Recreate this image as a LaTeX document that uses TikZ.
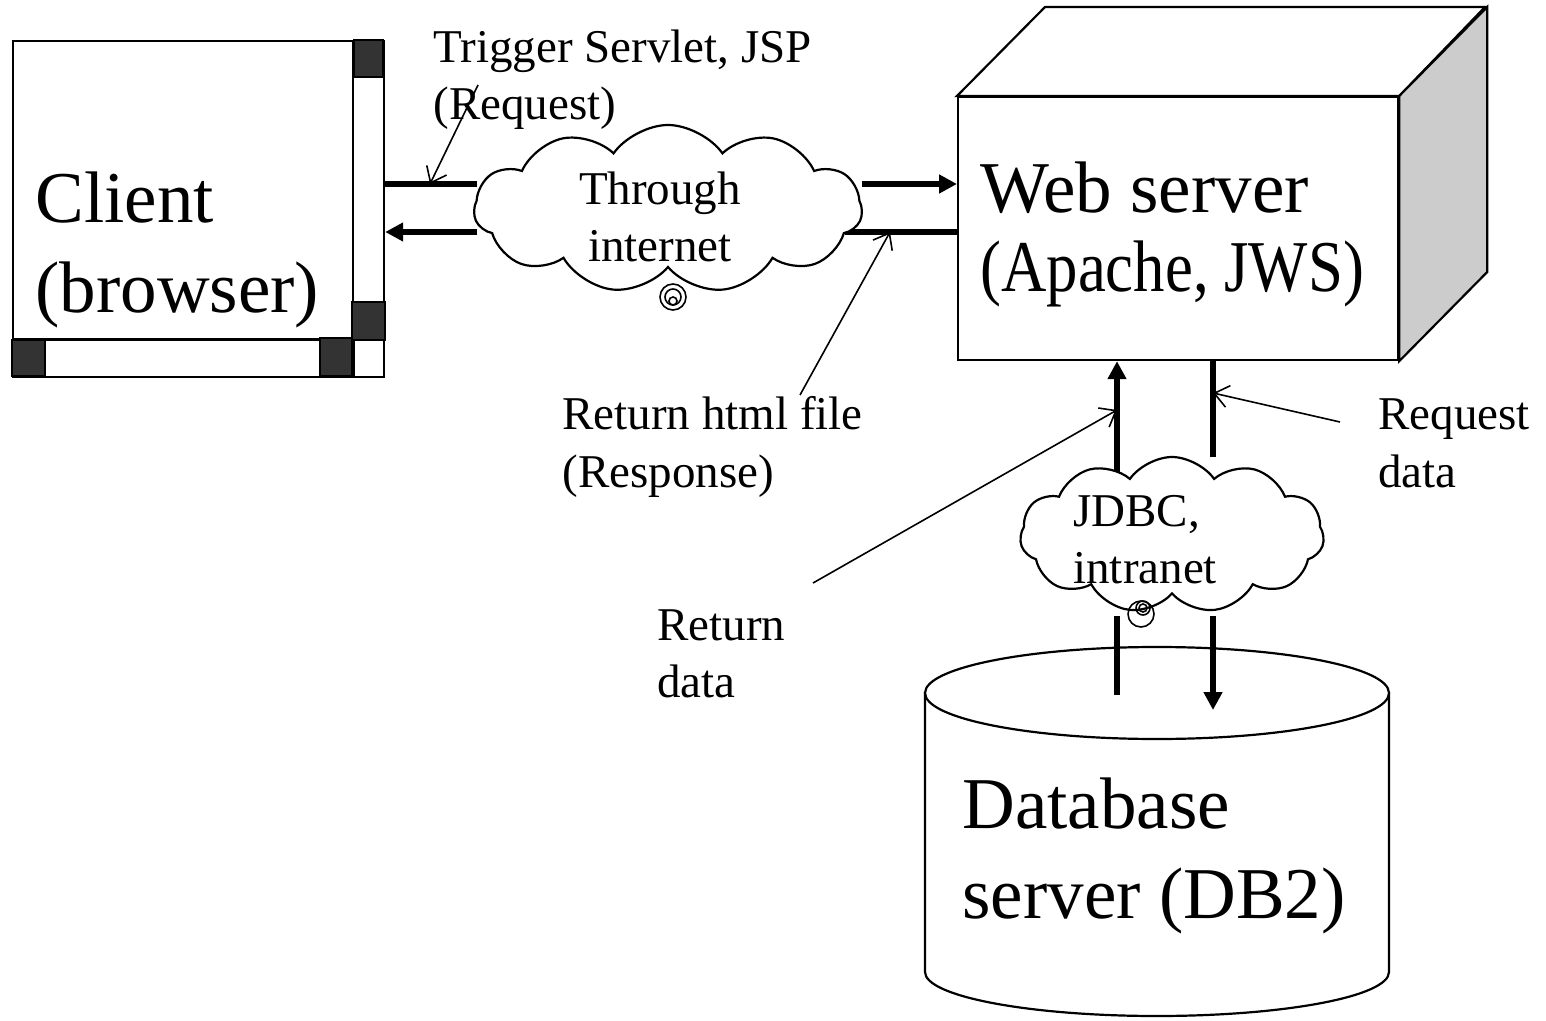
\documentclass[tikz,border=0pt]{standalone}
\usepackage{fontspec}
\setmainfont{Liberation Serif}
\usepackage{graphicx}
\usepackage{tikz}
\tikzset{
  big_font/.style = {font=\fontsize{36.5}{45}\selectfont},
  small_font/.style = {font=\fontsize{23.5}{28.5}\selectfont},
  thin_line/.style = {line width=1.1pt},
  dark_fill/.style = {fill=black!80}
}
\tikzset{
  title/.style = {big_font, align=left, anchor=base west, inner sep=0},
  label/.style = {small_font, align=left, anchor=base west, inner sep=0},
  frame/.style = {draw, thin_line, fill=white, inner sep=0, anchor=north west},
  flow/.style = {line width=2.6pt, -{Triangle[length=9pt, width=9pt]}},
  wire/.style = {line width=2.6pt},
  pointer/.style = {line width=0.8pt, -{Straight Barb[length=7pt, width=11pt]}},
  bubble/.style = {draw, thin_line, cloud, cloud puffs=11, cloud puff arc=110,
    cloud ignores aspect, fill=white, inner sep=0},
  ring/.style = {draw, line width=0.8pt, circle, inner sep=0}
}
\usetikzlibrary{shapes.symbols, arrows.meta, positioning, calc}

\begin{document}
\begin{tikzpicture}[x=0.5pt, y=-0.5pt]
        \useasboundingbox (0,0) rectangle (1546,1021);

        % Client
        \node[frame, minimum width=185.5pt, minimum height=168pt] (client_frame) at (12,40) {};
        \node[frame, minimum width=170pt, minimum height=149pt] (client) at (12,40) {};
        \draw[thin_line] (client.south east) -- (client.south east |- client_frame.south);
        \draw[thin_line] (client.south west) -- (client.south west -| client_frame.east);
        \draw[thin_line, dark_fill] (client.north east) rectangle (383,77);
        \draw[thin_line, dark_fill] (352,302) rectangle (client.south east -| client_frame.east);
        \draw[thin_line, dark_fill] (client.south west) rectangle (45,376);
        \draw[thin_line, dark_fill] (320,338) rectangle (352,376);

        % Web server
        \node[frame, minimum width=220pt, minimum height=131.5pt] (web) at (957,96) {};
        \draw[thin_line, fill=white] (web.north west) -- ++(88,-89) -- ++(440,0) -- (web.north east) -- cycle;
        \draw[thin_line, fill=black!20] (web.north east) -- ++(88,-89) -- ++(0,265) -- (web.south east) -- cycle;

        % Database
        \draw[thin_line, fill=white] (925,693) -- (925,972)
            arc[start angle=180, end angle=360, x radius=116pt, y radius=22pt] -- (1389,693) -- cycle;
        \draw[thin_line, fill=white] (1157,693) ellipse [x radius=116pt, y radius=23pt];

        % Link end points
        \coordinate (net_in) at (477,184);
        \coordinate (net_back) at (477,232);
        \coordinate (net_out) at (862,184);
        \coordinate (net_from) at (845,232);
        \coordinate (lan_up) at (1117,472);
        \coordinate (lan_ask) at (1213,457);
        \coordinate (lan_low_up) at (1117,616);
        \coordinate (lan_low_ask) at (1213,616);
        \coordinate (db_in) at (1117,695);
        \coordinate (db_out) at (1213,710);

        % Flows
        \draw[wire] (client_frame.east |- net_in) -- (net_in);
        \draw[flow] (net_back) -- (client_frame.east |- net_back);
        \draw[flow] (net_out) -- (web.west |- net_out);
        \draw[wire] (web.west |- net_from) -- (net_from);
        \draw[flow] (lan_up) -- (web.south -| lan_up);
        \draw[wire] (web.south -| lan_ask) -- (lan_ask);
        \draw[wire] (lan_low_up) -- (db_in);
        \draw[flow] (lan_low_ask) -- (db_out);

        % Clouds
        \node[bubble, minimum width=194pt, minimum height=84pt] (net) at (668,209) {};
        \node[ring, minimum size=13pt] (net_ring) at (673,297) {};
        \node[ring, minimum size=8pt] at (net_ring.center) {};
        \node[ring, minimum size=4pt] at ([yshift=-2pt]net_ring.center) {};
        \node[bubble, minimum width=152pt, minimum height=78pt] (lan) at (1172,535) {};
        \node[ring, minimum size=13pt] (lan_ring) at (1141,614) {};
        \node[ring, minimum size=7pt] at (1143,608) {};
        \node[ring, minimum size=4pt] at (1143,608) {};

        % Texts (placed at the baseline of the last line)
        \node[title] (client_text) at (35,313) {Client\\(browser)};
        \node[title, font=\fontsize{36.5}{39.5}\selectfont] (web_text) at (980,292)
            {Web server\\\scalebox{0.86}[1]{(Apache, JWS)}};
        \node[title] (db_text) at (962,918) {Database\\server (DB2)};
        \node[label] (trigger_text) at (433,120) {Trigger Servlet, JSP\\(Request)};
        \node[label, align=center, anchor=base] (net_text) at (660,262) {Through\\internet};
        \node[label] (html_text) at (562,487) {Return html file\\(Response)};
        \node[label] (lan_text) at (1073,583) {JDBC,\\intranet};
        \node[label] (ask_text) at (1378,487) {Request\\data};
        \node[label] (back_text) at (657,697) {Return\\data};

        % Pointers
        \coordinate (trigger_from) at (478,85);
        \coordinate (trigger_tip) at (430,184);
        \coordinate (html_from) at (800,395);
        \coordinate (html_tip) at (890,232);
        \coordinate (back_from) at (813,583);
        \coordinate (back_tip) at (1117,410);
        \coordinate (ask_from) at (1340,422);
        \coordinate (ask_tip) at (1213,393);
        \draw[pointer] (trigger_from) -- (trigger_tip);
        \draw[pointer] (html_from) -- (html_tip);
        \draw[pointer] (back_from) -- (back_tip);
        \draw[pointer] (ask_from) -- (ask_tip);
\end{tikzpicture}
\end{document}
